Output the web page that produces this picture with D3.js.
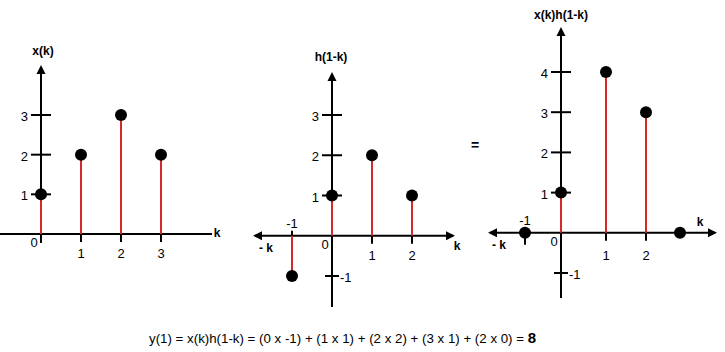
<!DOCTYPE html>
<html>
<head>
<meta charset="utf-8">
<script src="https://cdn.jsdelivr.net/npm/d3@7/dist/d3.min.js"></script>
<style>
  html, body { margin: 0; padding: 0; background: #fff; }
  svg { display: block; font-family: "Liberation Sans", Arial, sans-serif; }
</style>
</head>
<body>
<svg id="chart" width="725" height="352"></svg>
<script>
// ---- data ----
const xK = [0, 1, 2, 3];
const xV = [1, 2, 3, 2];
const hK = [-1, 0, 1, 2];
const hV = [-1, 1, 2, 1];
const pK = [-1, 0, 1, 2, 3];
const pV = [0, 1, 4, 3, 0];

const xYTicks = [1, 2, 3];
const xXTicks = [1, 2, 3];
const hYTicks = [1, 2, 3];
const hXTicks = [1, 2];
const pYTicks = [1, 2, 3, 4];
const pXTicks = [1, 2];

const titles = ["x(k)", "h(1-k)", "x(k)h(1-k)"];
const equation = "y(1) = x(k)h(1-k) = (0 x -1) + (1 x 1) + (2 x 2) + (3 x 1) + (2 x 0) = ";
const result = "8";

const svg = d3.select("#chart");
const RED = "#d42a2a";

function arrow(g, x, y, dir) {
  const L = 9, W = 4.5;
  let pts;
  if (dir === "up") pts = [[x, y], [x - W, y + L], [x + W, y + L]];
  else if (dir === "left") pts = [[x, y], [x + L, y - W], [x + L, y + W]];
  else pts = [[x, y], [x - L, y - W], [x - L, y + W]];
  g.append("path").attr("d", d3.line()(pts) + "Z").attr("fill", "#000");
}

function text(g, x, y, s, opts = {}) {
  return g.append("text").attr("x", x).attr("y", y).text(s)
    .attr("text-anchor", opts.anchor || "middle")
    .attr("font-size", opts.size || 13)
    .attr("font-weight", opts.weight || "normal")
    .attr("fill", "#000");
}

function panel(cfg) {
  const g = svg.append("g");
  const { x, y } = cfg;
  const x0 = x(0), y0 = y(0);
  // axes
  g.append("line").attr("x1", cfg.xa[0]).attr("x2", cfg.xa[1]).attr("y1", y0).attr("y2", y0)
    .attr("stroke", "#000").attr("stroke-width", 2);
  g.append("line").attr("x1", x0).attr("x2", x0).attr("y1", cfg.ya[0]).attr("y2", cfg.ya[1])
    .attr("stroke", "#000").attr("stroke-width", 2);
  arrow(g, x0, cfg.ya[1] - 2, "up");
  if (cfg.arrowsX) {
    arrow(g, cfg.xa[0] - 2, y0, "left");
    arrow(g, cfg.xa[1] + 2, y0, "right");
  }
  // y ticks
  cfg.yTicks.forEach(t => {
    g.append("line").attr("x1", x0 - 10).attr("x2", x0 + 10)
      .attr("y1", y(t)).attr("y2", y(t)).attr("stroke", "#000").attr("stroke-width", 2);
    text(g, x0 - 13, y(t) + 6, String(t), { anchor: "end" });
  });
  if (cfg.negY) {
    g.append("line").attr("x1", x0 - 7).attr("x2", x0 + 7)
      .attr("y1", y(-1)).attr("y2", y(-1)).attr("stroke", "#000").attr("stroke-width", 2);
    text(g, x0 + 8, y(-1) + 6, "-1", { anchor: "start" });
  }
  // x ticks
  cfg.xTicks.forEach(t => {
    g.append("line").attr("x1", x(t)).attr("x2", x(t)).attr("y1", y0 - 6).attr("y2", y0 + 8)
      .attr("stroke", "#000").attr("stroke-width", 2);
  });
  if (cfg.negX) {
    g.append("line").attr("x1", x(-1)).attr("x2", x(-1)).attr("y1", y0 - 5).attr("y2", y0 + 12)
      .attr("stroke", "#000").attr("stroke-width", 2);
  }
  // stems
  cfg.k.forEach((k, i) => {
    const v = cfg.v[i];
    if (v === 0) return;
    g.append("line").attr("x1", x(k)).attr("x2", x(k)).attr("y1", y(0)).attr("y2", y(v))
      .attr("stroke", RED).attr("stroke-width", 2);
  });
  // dots
  g.selectAll("circle.d").data(cfg.k).join("circle")
    .attr("cx", d => x(d)).attr("cy", (d, i) => y(cfg.v[i])).attr("r", 6).attr("fill", "#000");
  // x tick labels
  cfg.xTicks.forEach(t => text(g, x(t), y0 + cfg.xLabDy, String(t)));
  text(g, x0 - 7, y0 + 13, "0");
  if (cfg.negX) {
    text(g, x(-1), y0 - cfg.negLabDy, "-1");
    text(g, cfg.mk, y0 + 16, "- k", { size: 12, weight: "bold" });
  }
  text(g, cfg.kPos[0], cfg.kPos[1], "k", { size: 12, weight: "bold" });
  text(g, cfg.title[0], cfg.title[1], cfg.title[2], { size: 12, weight: "bold" });
  return g;
}

// left panel
panel({
  x: d3.scaleLinear().domain([0, 3]).range([41, 161]),
  y: d3.scaleLinear().domain([0, 3]).range([234, 115]),
  xa: [0, 212], ya: [243, 67], arrowsX: false,
  yTicks: xYTicks, xTicks: xXTicks, xLabDy: 24,
  k: xK, v: xV, kPos: [217, 237], title: [43, 55, titles[0]]
});

// middle panel
panel({
  x: d3.scaleLinear().domain([-1, 2]).range([292, 412]),
  y: d3.scaleLinear().domain([-1, 3]).range([276, 115]),
  xa: [255, 453], ya: [307, 74], arrowsX: true,
  yTicks: hYTicks, xTicks: hXTicks, xLabDy: 24, negY: true, negX: true,
  negLabDy: 8, mk: 266,
  k: hK, v: hV, kPos: [457, 250], title: [331, 61, titles[1]]
});

// right panel
panel({
  x: d3.scaleLinear().domain([-1, 0, 1, 2, 3]).range([525, 561, 606, 646, 680]),
  y: d3.scaleLinear().domain([-1, 4]).range([273, 72]),
  xa: [490, 715], ya: [298, 29], arrowsX: true,
  yTicks: pYTicks, xTicks: pXTicks, xLabDy: 27, negY: true, negX: true,
  negLabDy: 8, mk: 499,
  k: pK, v: pV, kPos: [700, 226], title: [561, 19, titles[2]]
});

// equals sign
text(svg, 475, 150, "=", { size: 14, weight: "bold" });

// equation
const eq = svg.append("text").attr("x", 149).attr("y", 343).attr("font-size", 13.3).attr("fill", "#000");
eq.append("tspan").text(equation);
eq.append("tspan").attr("font-size", 15).attr("font-weight", "bold").text(result);
</script>
</body>
</html>
